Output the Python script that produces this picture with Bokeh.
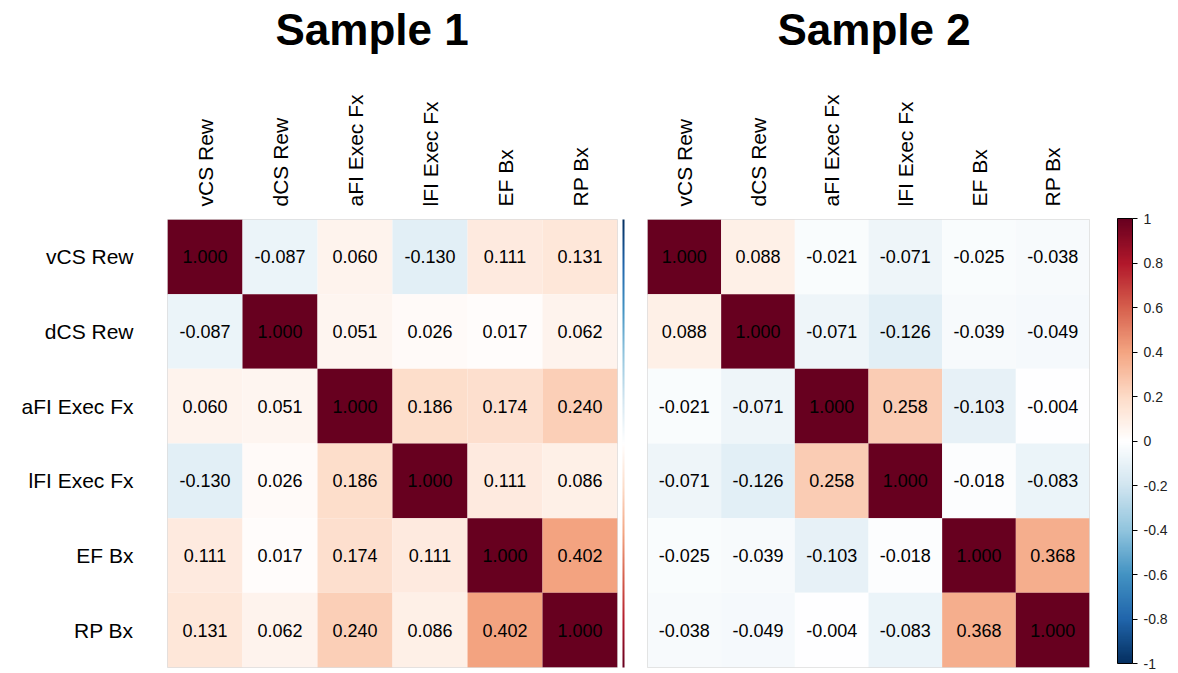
import numpy as np
from bokeh.plotting import figure
from bokeh.models import (ColumnDataSource, LinearColorMapper, ColorBar,
                          FixedTicker, FactorRange)
from bokeh.layouts import row
from bokeh.embed import file_html
from bokeh.resources import INLINE
from bokeh.core.properties import value

labels = ["vCS Rew", "dCS Rew", "aFI Exec Fx", "lFI Exec Fx", "EF Bx", "RP Bx"]

sample1 = [
    [1.000, -0.087, 0.060, -0.130, 0.111, 0.131],
    [-0.087, 1.000, 0.051, 0.026, 0.017, 0.062],
    [0.060, 0.051, 1.000, 0.186, 0.174, 0.240],
    [-0.130, 0.026, 0.186, 1.000, 0.111, 0.086],
    [0.111, 0.017, 0.174, 0.111, 1.000, 0.402],
    [0.131, 0.062, 0.240, 0.086, 0.402, 1.000],
]
sample2 = [
    [1.000, 0.088, -0.021, -0.071, -0.025, -0.038],
    [0.088, 1.000, -0.071, -0.126, -0.039, -0.049],
    [-0.021, -0.071, 1.000, 0.258, -0.103, -0.004],
    [-0.071, -0.126, 0.258, 1.000, -0.018, -0.083],
    [-0.025, -0.039, -0.103, -0.018, 1.000, 0.368],
    [-0.038, -0.049, -0.004, -0.083, 0.368, 1.000],
]
titles = ["Sample 1", "Sample 2"]
cb_ticks = [-1, -0.8, -0.6, -0.4, -0.2, 0, 0.2, 0.4, 0.6, 0.8, 1]
cb_tick_labels = {-1: "-1", -0.8: "-0.8", -0.6: "-0.6", -0.4: "-0.4", -0.2: "-0.2",
                  0: "0", 0.2: "0.2", 0.4: "0.4", 0.6: "0.6", 0.8: "0.8", 1: "1"}

anchors = ["#053061", "#2166AC", "#4393C3", "#92C5DE", "#D1E5F0", "#FFFFFF",
           "#FDDBC7", "#F4A582", "#D6604D", "#B2182B", "#67001F"]


def interp_palette(cols, n=200):
    rgb = np.array([[int(c[i:i + 2], 16) for i in (1, 3, 5)] for c in cols], float)
    xs = np.linspace(0, 1, len(cols))
    t = np.linspace(0, 1, n)
    out = []
    for v in t:
        r, g, b = (np.interp(v, xs, rgb[:, k]) for k in range(3))
        out.append("#%02x%02x%02x" % (int(round(r)), int(round(g)), int(round(b))))
    return out


palette = interp_palette(anchors)
mapper = LinearColorMapper(palette=palette, low=-1, high=1)

FONT = "Liberation Sans"


def panel(mat, title, width, mb_left, mb_right, show_y, title_offset):
    xs, ys, vals, txt = [], [], [], []
    for i, r in enumerate(labels):
        for j, c in enumerate(labels):
            xs.append(c)
            ys.append(r)
            vals.append(mat[i][j])
            txt.append(f"{mat[i][j]:.3f}")
    src = ColumnDataSource(dict(x=xs, y=ys, v=vals, t=txt))
    p = figure(width=width, height=671,
               x_range=FactorRange(*labels), y_range=FactorRange(*reversed(labels)),
               x_axis_location="above", output_backend="svg", toolbar_location=None,
               min_border_left=mb_left, min_border_right=mb_right,
               min_border_top=219, min_border_bottom=4, title=title)
    p.rect(x="x", y="y", width=1, height=1, source=src,
           fill_color={"field": "v", "transform": mapper}, line_color=None)
    p.text(x="x", y="y", text="t", source=src, text_align="center",
           text_baseline="middle", text_font=value(FONT),
           text_font_size="18px", text_color="black")
    p.grid.visible = False
    p.outline_line_color = "#dddddd"
    p.title.text_font = FONT
    p.title.text_font_size = "44px"
    p.title.text_font_style = "bold"
    p.title.align = "left"
    p.title.offset = title_offset
    p.title.text_color = "black"
    p.title.standoff = 0
    for ax in p.axis:
        ax.axis_line_color = None
        ax.major_tick_line_color = None
        ax.minor_tick_line_color = None
        ax.major_label_text_font = FONT
        ax.major_label_text_font_size = "21px"
        ax.major_label_text_color = "black"
    p.xaxis.major_label_orientation = np.pi / 2
    p.xaxis.major_label_standoff = 7
    # invisible spacer label that lifts the title above the column labels
    p.xaxis.axis_label = " "
    p.xaxis.axis_label_text_font_size = "4px"
    p.xaxis.axis_label_standoff = 30
    p.yaxis.major_label_standoff = 28
    if not show_y:
        p.yaxis.visible = False
    return p


p1 = panel(sample1, titles[0], 631, 167, 14, True, 108)
p2 = panel(sample2, titles[1], 539, 16, 75, False, 130)

cb = ColorBar(color_mapper=mapper, width=15, height=445,
              ticker=FixedTicker(ticks=cb_ticks),
              major_label_overrides=cb_tick_labels,
              major_label_text_font=FONT, major_label_text_font_size="14px",
              major_label_text_color="#222222",
              major_tick_in=0, major_tick_out=5, major_tick_line_color="black",
              bar_line_color="black", border_line_color=None,
              background_fill_alpha=0, margin=0, padding=0,
              location=(28, 4), label_standoff=6)
p2.add_layout(cb, "right")

# thin clipped colour strip at the right edge of the first panel
strip_mapper = LinearColorMapper(palette=palette[::-1], low=-1, high=1)
strip = ColorBar(color_mapper=strip_mapper, width=2, height=448,
                 ticker=FixedTicker(ticks=[]), major_label_text_font_size="0px",
                 major_tick_line_color=None, minor_tick_line_color=None,
                 bar_line_color=None, border_line_color=None,
                 background_fill_alpha=0, margin=0, padding=0,
                 location=(5, 0), label_standoff=0)
p1.add_layout(strip, "right")

layout = row(p1, p2)
open("out.html", "w").write(file_html(layout, INLINE))
